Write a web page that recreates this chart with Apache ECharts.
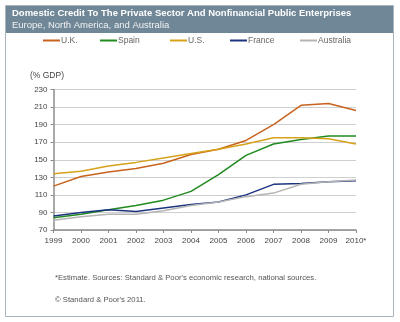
<!DOCTYPE html>
<html>
<head>
<meta charset="utf-8">
<script src="https://cdn.jsdelivr.net/npm/echarts@6/dist/echarts.min.js"></script>
<style>
  html, body { margin: 0; padding: 0; background: #fff; }
  #chart { width: 400px; height: 322px; }
</style>
</head>
<body>
<div id="chart"></div>
<script>
// Domestic credit to the private sector and nonfinancial public enterprises, % of GDP
const years = ['1999', '2000', '2001', '2002', '2003', '2004', '2005', '2006', '2007', '2008', '2009', '2010*'];
const uk        = [120, 131, 136, 140, 146, 156, 162, 172, 190, 212, 214, 206];
const spain     = [84, 88, 93, 98, 104, 114, 133, 155, 168, 173, 177, 177];
const us        = [134, 137, 143, 147, 152, 157, 162, 168, 175, 175, 174, 168];
const france    = [86, 90, 93, 91, 95, 99, 102, 110, 122, 123, 125, 126];
const australia = [81, 85, 88, 88, 92, 98, 102, 108, 112, 122, 125, 127];
const yTicks = { min: 70, max: 230, step: 20 };

const seriesDefs = [
  { name: 'U.K.', data: uk, color: '#C8631E', legendX: 43 },
  { name: 'Spain', data: spain, color: '#208A20', legendX: 100 },
  { name: 'U.S.', data: us, color: '#D6A21A', legendX: 170 },
  { name: 'France', data: france, color: '#1C3480', legendX: 230 },
  { name: 'Australia', data: australia, color: '#B4B4B4', legendX: 300 }
];

const font = 'Liberation Sans, Arial, sans-serif';
const chart = echarts.init(document.getElementById('chart'), null, { renderer: 'canvas' });

chart.setOption({
  animation: false,
  backgroundColor: '#fff',
  graphic: [
    { type: 'rect', shape: { x: 5.5, y: 5.5, width: 388, height: 311 },
      style: { fill: 'none', stroke: '#A9B4BD', lineWidth: 1 }, z: 0 },
    { type: 'rect', shape: { x: 6, y: 6, width: 387, height: 27 },
      style: { fill: '#6F8797' }, z: 1 },
    { type: 'text', left: 12, top: 8, z: 2,
      style: { text: 'Domestic Credit To The Private Sector And Nonfinancial Public Enterprises',
               fill: '#fff', font: 'bold 9.5px ' + font } },
    { type: 'text', left: 12, top: 20, z: 2,
      style: { text: 'Europe, North America, and Australia', fill: '#F2F2F2', font: '9.5px ' + font } },
    { type: 'text', left: 30, top: 71, z: 2,
      style: { text: '(% GDP)', fill: '#444', font: '8.5px ' + font } },
    { type: 'text', left: 55, top: 274, z: 2,
      style: { text: "*Estimate. Sources: Standard & Poor's economic research, national sources.",
               fill: '#555', font: '7.7px ' + font } },
    { type: 'text', left: 55, top: 296, z: 2,
      style: { text: "\u00A9 Standard & Poor's 2011.", fill: '#555', font: '7.7px ' + font } }
  ],
  legend: seriesDefs.map(s => ({
    top: 36,
    left: s.legendX,
    padding: 0,
    itemWidth: 17,
    itemHeight: 2,
    icon: 'rect',
    textStyle: { color: '#666', fontSize: 8.5, fontFamily: font, padding: [0, 0, 0, -4] },
    data: [s.name]
  })),
  grid: { left: 53.5, right: 44, top: 89.5, bottom: 92 },
  xAxis: {
    type: 'category',
    boundaryGap: false,
    data: years,
    axisLine: { lineStyle: { color: '#8C8C8C', width: 1.5 } },
    axisTick: { lineStyle: { color: '#8C8C8C' }, length: 3 },
    axisLabel: { color: '#444', fontSize: 8, fontFamily: font, margin: 7 },
    splitLine: { show: false }
  },
  yAxis: {
    type: 'value',
    min: yTicks.min,
    max: yTicks.max,
    interval: yTicks.step,
    axisLine: { show: true, lineStyle: { color: '#8C8C8C', width: 1.5 } },
    axisTick: { show: true, length: 3, lineStyle: { color: '#8C8C8C' } },
    axisLabel: { color: '#444', fontSize: 8, fontFamily: font, margin: 6 },
    splitLine: { lineStyle: { color: '#CFCFCF', width: 1 } }
  },
  series: seriesDefs.map(s => ({
    name: s.name,
    type: 'line',
    data: s.data,
    symbol: 'none',
    lineStyle: { color: s.color, width: 1.5 },
    itemStyle: { color: s.color }
  }))
});
</script>
</body>
</html>
